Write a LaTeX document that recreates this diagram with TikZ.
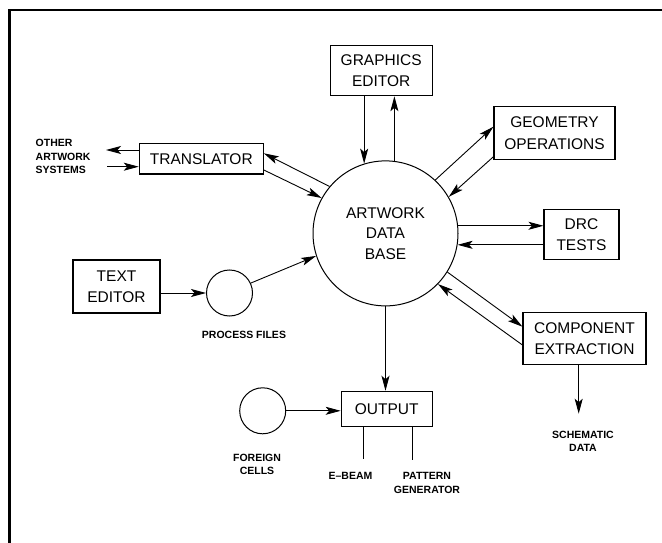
\documentclass[tikz,border=0pt]{standalone}
\usepackage{fontspec}
\setmainfont{Liberation Sans}
\usetikzlibrary{arrows.meta,calc}
\begin{document}
\begin{tikzpicture}[x=1pt,y=-1pt,
  box/.style={draw,line width=1.1pt,align=center,inner sep=0pt,font=\fontsize{15.5}{21.5}\selectfont},
  rnd/.style={draw,circle,line width=1pt,inner sep=0pt},
  lbl/.style={align=center,inner sep=0pt,font=\bfseries\fontsize{10.5}{13.6}\selectfont},
  conn/.style={line width=0.9pt},
  arr/.style={conn,-{Stealth[length=15pt,width=8pt,inset=3.5pt]}},
]
\useasboundingbox (0,0) rectangle (662,543);
% frame
\draw[line width=2.2pt] (9.5,543) -- (9.5,9.7) -- (662,9.7);

% nodes
\node[box,minimum width=102pt,minimum height=50pt] (ge) at (381.2,70.7) {GRAPHICS\\EDITOR};
\node[box,minimum width=121pt,minimum height=52.6pt] (go) at (554.5,133) {GEOMETRY\\OPERATIONS};
\node[box,minimum width=124pt,minimum height=30.5pt] (tr) at (201.3,158.7) {TRANSLATOR};
\node[box,minimum width=75pt,minimum height=50.5pt] (drc) at (581.5,234.6) {DRC\\TESTS};
\node[box,minimum width=87pt,minimum height=53pt] (te) at (116.5,286.5) {TEXT\\EDITOR};
\node[box,minimum width=123pt,minimum height=52pt] (ce) at (584.5,338.6) {COMPONENT\\EXTRACTION};
\node[box,minimum width=91pt,minimum height=35pt] (out) at (386.7,408.8) {OUTPUT};
\node[rnd,minimum size=145pt,align=center,font=\fontsize{15.5}{20.5}\selectfont] (db) at (385.5,233.4) {ARTWORK\\DATA\\BASE};
\node[rnd,minimum size=46pt] (pf) at (229.5,293) {};
\node[rnd,minimum size=46pt] (fc) at (262.7,410.8) {};

% labels
\node[lbl,align=left,anchor=west] (oas) at (35.5,156.5) {OTHER\\ARTWORK\\SYSTEMS};
\node[lbl] (pfl) at (244,335) {PROCESS FILES};
\node[lbl] (fcl) at (257,464.5) {FOREIGN\\CELLS};
\node[lbl] (ebl) at (350.5,475.7) {E–BEAM};
\node[lbl] (pgl) at (427,483) {PATTERN\\GENERATOR};
\node[lbl] (sdl) at (583,441.3) {SCHEMATIC\\DATA};

% free ends
\coordinate (oa1) at (106,150);
\coordinate (oa2) at (107.3,166.7);
\coordinate (eb) at (363.3,459);
\coordinate (pg) at (412.3,459.5);
\coordinate (sd) at (578.7,413.7);

% connectors
\draw[arr] ([yshift=8.7pt]tr.west) -- (oa1);
\draw[arr] (oa2) -- ([yshift=-8pt]tr.west);
\draw[arr] (db.140.4) -- ([yshift=5.4pt]tr.east);
\draw[arr] ([yshift=-11.3pt]tr.east) -- (db.151.9);
\draw[arr] (ge.south -| db.107) -- (db.107);
\draw[arr] (db.83.8) -- (db.83.8 |- ge.south);
\draw[arr] (db.47.5) -- ([yshift=6.3pt]go.west);
\draw[arr] ([yshift=-23.7pt]go.west) -- (db.30.8);
\draw[arr] (db.6.65) -- (db.6.65 -| drc.west);
\draw[arr] (db.-9.2 -| drc.west) -- (db.-9.2);
\draw[arr] (db.-32.4) -- ([yshift=11.9pt]ce.west);
\draw[arr] ([yshift=-6.4pt]ce.west) -- (db.-44.3);
\draw[arr] (pf.west -| te.east) -- (pf.west);
\draw[arr] (pf.25) -- (db.198);
\draw[arr] (db.south) -- (db.south |- out.north);
\draw[arr] (fc.east) -- (fc.east -| out.west);
\draw[conn] (out.south -| eb) -- (eb);
\draw[conn] (out.south -| pg) -- (pg);
\draw[arr] (ce.south -| sd) -- (sd);
\end{tikzpicture}
\end{document}
